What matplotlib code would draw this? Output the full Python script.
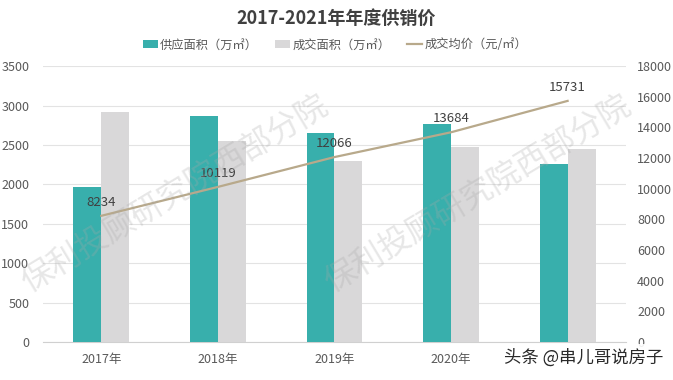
import matplotlib
matplotlib.use("Agg")
import matplotlib.pyplot as plt
import numpy as np

plt.rcParams['font.family'] = ['Noto Sans CJK SC', 'DejaVu Sans']

# data
years = ["2017年", "2018年", "2019年", "2020年", "2021年"]
supply = [1970, 2870, 2650, 2770, 2260]      # 供应面积（万㎡）
deal = [2920, 2550, 2300, 2470, 2450]        # 成交面积（万㎡）
price = [8234, 10119, 12066, 13684, 15731]   # 成交均价（元/㎡）

TEAL = "#38AFAC"
GREY = "#D9D8D9"
TAN = "#B8A98B"
TXT = "#595959"

fig = plt.figure(figsize=(6.73, 3.80), dpi=100)
ax = fig.add_axes([0.064, 0.10, 0.866, 0.726])
ax2 = ax.twinx()

x = np.arange(len(years))
w = 0.24
b1 = ax.bar(x - w / 2, supply, w, color=TEAL, label="供应面积（万㎡）", zorder=3)
b2 = ax.bar(x + w / 2, deal, w, color=GREY, label="成交面积（万㎡）", zorder=3)
ln, = ax2.plot(x, price, color=TAN, lw=1.6, label="成交均价（元/㎡）", zorder=4)

for xi, p in zip(x, price):
    ax2.annotate(str(p), (xi, p), xytext=(0, 5), textcoords="offset points",
                 ha="center", va="bottom", fontsize=9.5, color="#404040")

ax.set_xlim(-0.5, len(years) - 0.5)
ax.set_ylim(0, 3500)
ax.set_yticks(range(0, 3501, 500))
ax2.set_ylim(0, 18000)
ax2.set_yticks(range(0, 18001, 2000))
ax.set_xticks(x)
ax.set_xticklabels(years)
# the last year label sits under the site watermark in the reference
ax.get_xticklabels()[-1].set_visible(False)

ax.grid(axis="y", color="#E3E3E3", lw=0.8, zorder=0)
for a in (ax, ax2):
    for s in a.spines.values():
        s.set_visible(False)
    a.tick_params(length=0, labelsize=9, colors=TXT)
ax.spines["bottom"].set_visible(True)
ax.spines["bottom"].set_color("#D0D0D0")
ax.tick_params(axis="y", pad=10)
ax2.tick_params(axis="y", pad=8)
ax.tick_params(axis="x", pad=8)

fig.text(0.5, 0.953, "2017-2021年年度供销价", ha="center", va="center",
         fontsize=13, fontweight="bold", color="#404040")
fig.legend(handles=[b1, b2, ln], loc="center", bbox_to_anchor=(0.498, 0.882),
           ncol=3, frameon=False, fontsize=8.8, handlelength=1.2, handleheight=0.6,
           columnspacing=1.4, handletextpad=0.2, labelcolor=TXT)

# watermarks
for cx in (0.26, 0.71):
    fig.text(cx, 0.49, "保利投顾研究院西部分院", ha="center", va="center",
             rotation=31, fontsize=23, color="#A8A8A8", alpha=0.28, zorder=10)
fig.text(0.985, 0.058, "头条 @串儿哥说房子", ha="right", va="center", fontsize=12.5,
         color="#2A2A2A", zorder=11,
         bbox=dict(boxstyle="square,pad=0.25", fc="white", ec="none", alpha=0.9))

fig.savefig("out.png", dpi=100)
